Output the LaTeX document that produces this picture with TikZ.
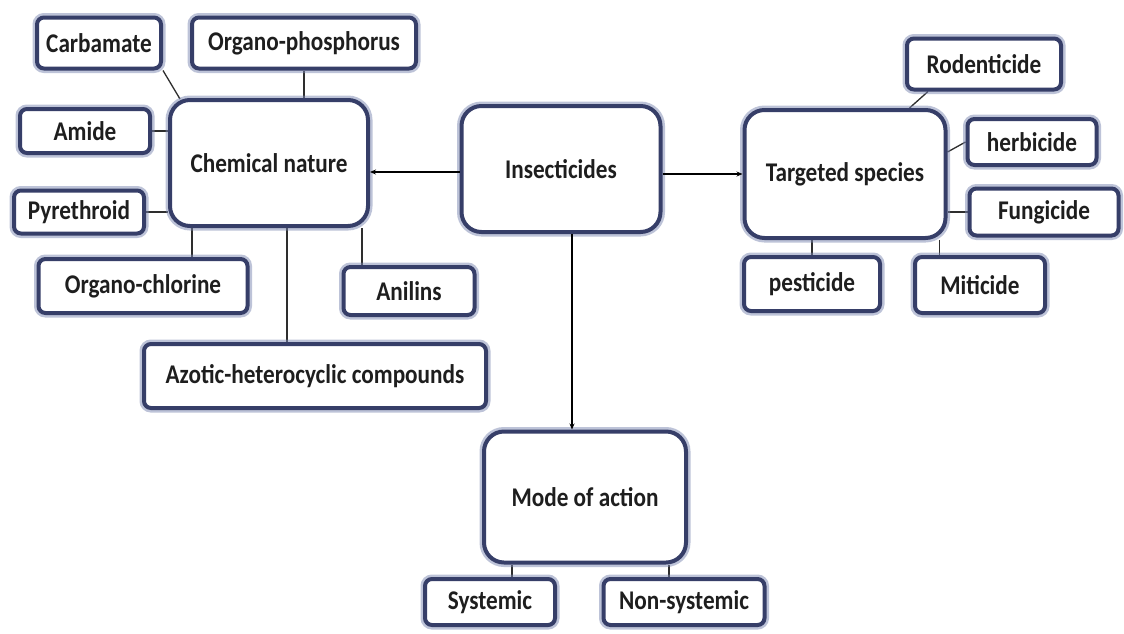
\documentclass[tikz,border=0pt]{standalone}
\usepackage{fontspec}
\newfontfamily\boxfont{Carlito}[FakeStretch=0.86]
\usetikzlibrary{arrows.meta,backgrounds,calc}
\definecolor{bord}{HTML}{363E68}
\definecolor{halo}{HTML}{7D88B2}
\definecolor{txt}{HTML}{1E1E1E}
\definecolor{conn}{HTML}{2E2E2E}
\begin{document}
\begin{tikzpicture}[x=1pt,y=-1pt,
  bx/.style={rectangle, rounded corners=7pt, fill=white, draw=bord, line width=4pt,
    preaction={draw=halo, line width=9pt, opacity=0.5},
    font=\boxfont\bfseries\fontsize{27}{29}\selectfont, text=txt, inner sep=0pt},
  big/.style={bx, rounded corners=20pt},
  link/.style={draw=conn, line width=1.3pt},
  arr/.style={draw=black, line width=1.7pt, -{Stealth[length=6pt,width=5pt]}}
]
\useasboundingbox (0,0) rectangle (1124,633);
\begin{pgfonlayer}{background}
\fill[white] (0,0) rectangle (1124,633);
\end{pgfonlayer}

% big boxes
\node[big, minimum width=198pt, minimum height=126pt] (chem) at (269,163) {Chemical nature};
\node[big, minimum width=199pt, minimum height=126pt] (ins) at (561,169) {Insecticides};
\node[big, minimum width=201pt, minimum height=128pt] (tar) at (845,174) {Targeted species};
\node[big, minimum width=202pt, minimum height=131pt] (mode) at (585,497) {Mode of action};

% chemical nature children
\node[bx, minimum width=124pt, minimum height=51pt] (carb) at (99,43) {Carbamate};
\node[bx, minimum width=224pt, minimum height=51pt] (ophos) at (304,43) {Organo-phosphorus};
\node[bx, minimum width=130pt, minimum height=44pt] (amide) at (85,131) {Amide};
\node[bx, minimum width=130pt, minimum height=43pt] (pyr) at (79,212) {Pyrethroid};
\node[bx, minimum width=209pt, minimum height=54pt] (ochl) at (143,286) {Organo-chlorine};
\node[bx, minimum width=131pt, minimum height=48pt] (anil) at (409,291) {Anilins};
\node[bx, minimum width=342pt, minimum height=64pt] (azo) at (315,376) {Azotic-heterocyclic compounds};

% targeted species children
\node[bx, minimum width=154pt, minimum height=51pt] (rod) at (984,64) {Rodenticide};
\node[bx, minimum width=129pt, minimum height=46pt] (herb) at (1032,142) {herbicide};
\node[bx, minimum width=149pt, minimum height=47pt] (fung) at (1044,212) {Fungicide};
\node[bx, minimum width=136pt, minimum height=54pt] (pest) at (812,284) {pesticide};
\node[bx, minimum width=130pt, minimum height=56pt] (mit) at (980,285) {Miticide};

% mode of action children
\node[bx, minimum width=130pt, minimum height=46pt] (sys) at (490,602) {Systemic};
\node[bx, minimum width=161pt, minimum height=46pt] (nons) at (684,602) {Non-systemic};

\begin{pgfonlayer}{background}
% chemical nature links
\draw[link] (carb.south east) -- ([xshift=12pt,yshift=-1pt]chem.north west);
\draw[link] (ophos.south) -- (ophos.south |- chem.north);
\draw[link] (amide.east) -- (amide.east -| chem.west);
\draw[link] (pyr.east) -- (pyr.east -| chem.west);
\draw[link] ([xshift=24pt]chem.south west) -- ([xshift=24pt]chem.south west |- ochl.north);
\draw[link] ([xshift=119pt]chem.south west) -- ([xshift=119pt]chem.south west |- azo.north);
\draw[link] ([xshift=-8pt]chem.south east) -- ([xshift=-8pt]chem.south east |- anil.north);
% targeted species links
\draw[link] ([xshift=23pt]rod.south west) -- ([xshift=-38pt]tar.north east);
\draw[link] (herb.west) -- ([yshift=-10pt]herb.west -| tar.east);
\draw[link] (fung.west) -- (fung.west -| tar.east);
\draw[link] (pest.north) -- (pest.north |- tar.south);
\draw[link] ([xshift=-8pt]tar.south east) -- ([xshift=-8pt]tar.south east |- mit.north);
% mode of action links
\draw[link] ([xshift=22pt]sys.north) -- ([xshift=22pt]sys.north |- mode.south);
\draw[link] ([xshift=-15pt]nons.north) -- ([xshift=-15pt]nons.north |- mode.south);
\end{pgfonlayer}

% arrows from Insecticides
\draw[arr] ([yshift=-3pt]ins.west) -- ([yshift=-3pt]ins.west -| chem.east);
\draw[arr] ([yshift=-5pt]ins.east) -- ([yshift=-5pt]ins.east -| tar.west);
\draw[arr] ([xshift=11pt]ins.south) -- ([xshift=11pt]ins.south |- mode.north);
\end{tikzpicture}
\end{document}
